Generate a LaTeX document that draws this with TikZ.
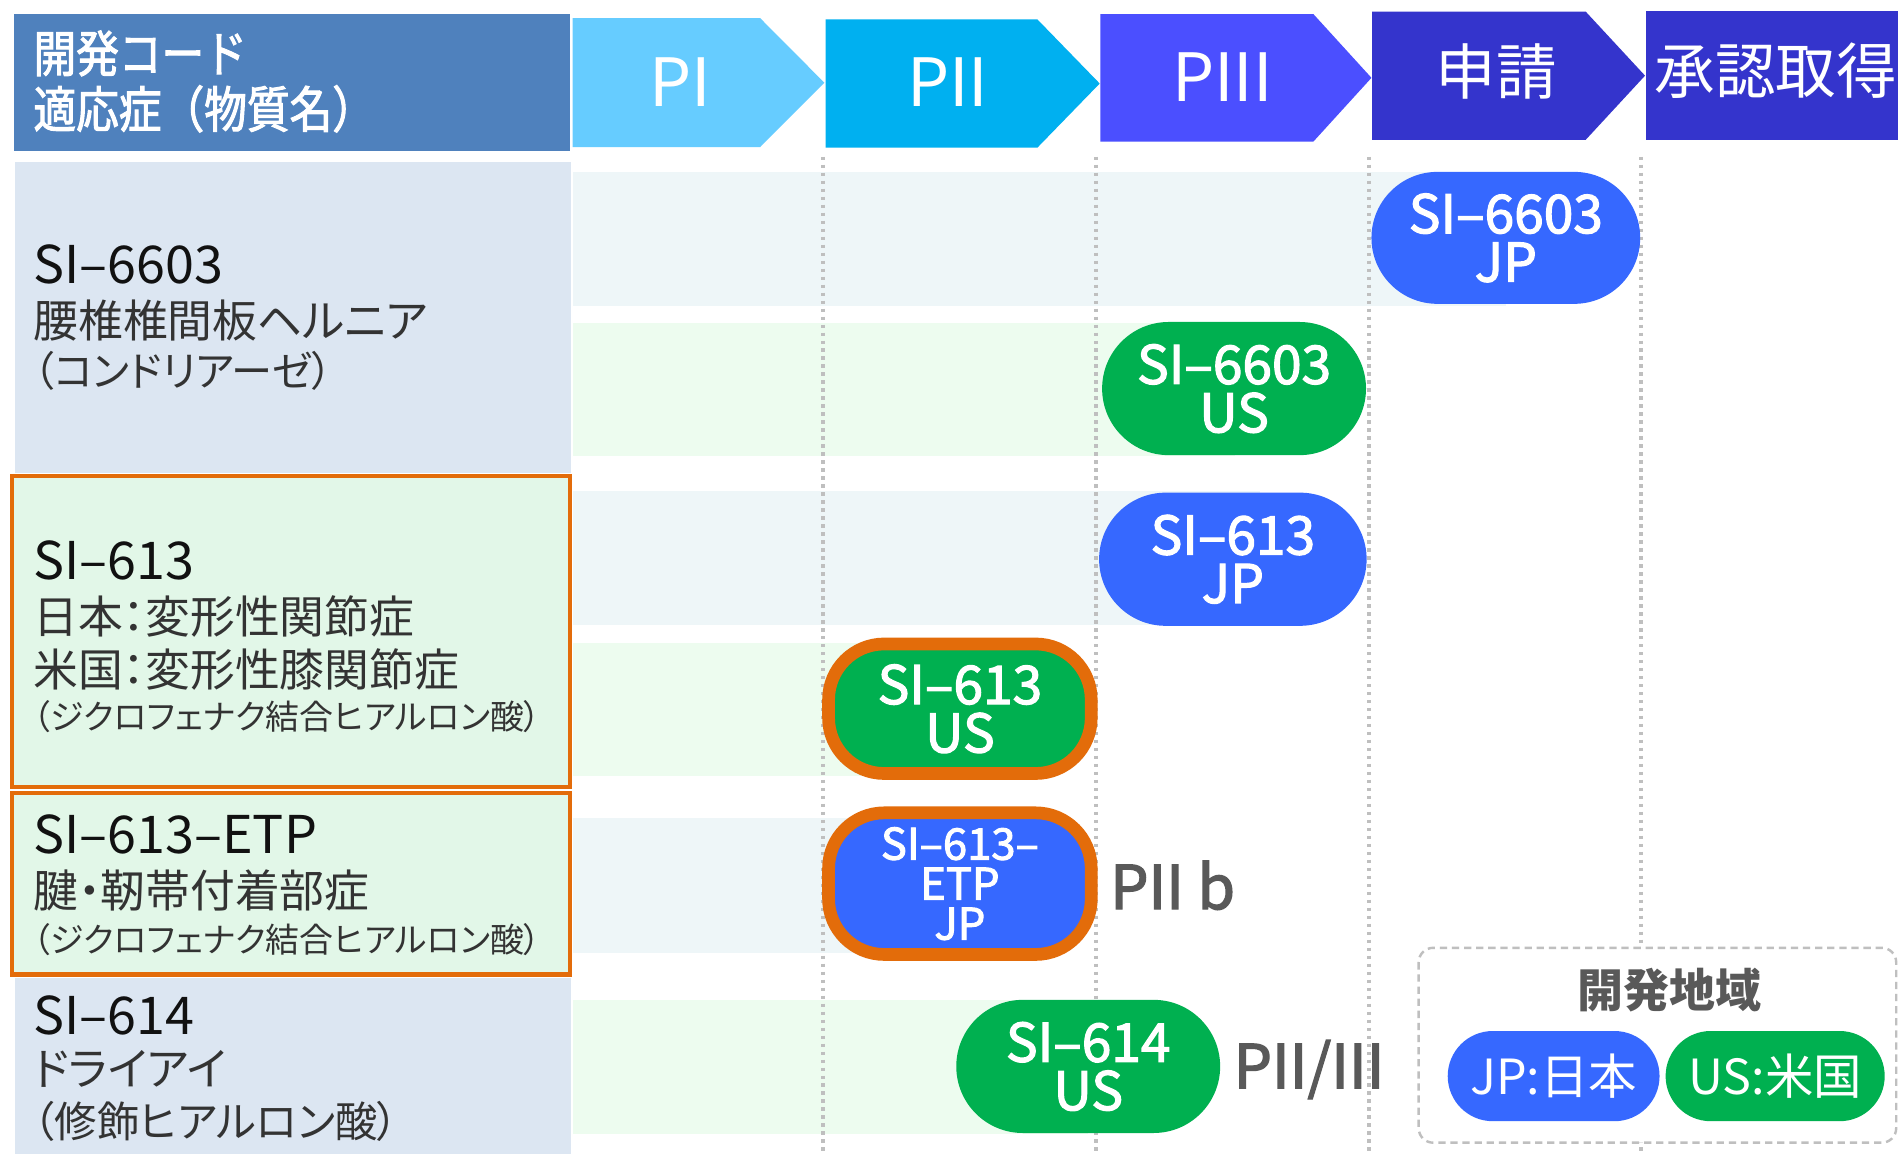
\documentclass[tikz,border=0pt]{standalone}
\usepackage{fontspec}
\setmainfont{Noto Sans CJK JP}
\newfontfamily\jpp{Noto Sans CJK JP}[RawFeature=+palt]
\newfontfamily\jpc{Noto Sans CJK JP}[FakeStretch=0.86,RawFeature={embolden=2}]
\newfontfamily\jpm{Noto Sans CJK JP}[RawFeature={embolden=2.2}]
\usetikzlibrary{shapes.misc}
\definecolor{hdrC}{HTML}{4F81BD}
\definecolor{piC}{HTML}{66CCFF}
\definecolor{piiC}{HTML}{00B0F0}
\definecolor{piiiC}{HTML}{4B4FFF}
\definecolor{shinC}{HTML}{3434CC}
\definecolor{rowB}{HTML}{DCE6F2}
\definecolor{rowG}{HTML}{E2F7E8}
\definecolor{strB}{HTML}{EEF6F8}
\definecolor{strG}{HTML}{EDFCEF}
\definecolor{pillB}{HTML}{3668FF}
\definecolor{pillG}{HTML}{00B050}
\definecolor{orgC}{HTML}{E36C0A}
\definecolor{grayT}{HTML}{595959}
\definecolor{dotC}{HTML}{BFBFBF}
\definecolor{codeT}{HTML}{111111}
\definecolor{jpT}{HTML}{333333}
\begin{document}
\begin{tikzpicture}[x=1pt,y=-1pt,
  pill/.style={rounded rectangle, inner sep=0pt, text=white, align=center},
  obpill/.style={rectangle, rounded corners=46pt, draw=orgC, line width=10.5pt, inner sep=0pt, text=white, align=center},
  ltxt/.style={anchor=base west, inner sep=0pt},
  phase/.style={text=white, inner sep=0pt},
  dotline/.style={draw=dotC, line width=3pt, dash pattern=on 2.8pt off 3.8pt},
  codefont/.style={font=\fontsize{43}{48}\selectfont, text=codeT},
  jpfont/.style={font=\jpp\fontsize{37}{44}\selectfont, text=jpT},
  smfont/.style={font=\jpp\fontsize{28}{34}\selectfont, text=jpT},
  pilltxt/.style={font=\jpm\fontsize{44}{40}\selectfont},
  sidelab/.style={anchor=base west, inner sep=0pt, text=grayT, font=\jpm\fontsize{50}{56}\selectfont}
]
\useasboundingbox (0,0) rectangle (1568,953);
\fill[white] (0,0) rectangle (1568,953);

% header
\fill[hdrC] (11.5,11.5) rectangle (471,125);
\node[ltxt, text=white, font=\jpc\fontsize{41}{46}\selectfont] (hdA) at (27.5,59.5) {開発コード};
\node[ltxt, text=white, font=\jpc\fontsize{41}{46}\selectfont] (hdB) at (27.5,105.5) {適応症（物質名）};

% phase chevrons
\fill[piC] (473,15) -- (628,15) -- (681,68.3) -- (628,121.5) -- (473,121.5) -- cycle;
\node[phase, font=\fontsize{55}{60}\selectfont] (tPI) at (562,67.5) {PI};
\fill[piiC] (682,16) -- (857,16) -- (908.5,69) -- (857,122) -- (682,122) -- cycle;
\node[phase, font=\fontsize{55}{60}\selectfont] (tPII) at (783,68) {PII};
\fill[piiiC] (909,11.6) -- (1085,11.6) -- (1133,64.3) -- (1085,117) -- (909,117) -- cycle;
\node[phase, font=\fontsize{55}{60}\selectfont] (tPIII) at (1010,64) {PIII};
\fill[shinC] (1133.5,9.6) -- (1310,9.6) -- (1359,62.5) -- (1310,115.5) -- (1133.5,115.5) -- cycle;
\node[phase, font=\fontsize{50}{56}\selectfont] (tShin) at (1236,59) {申請};
\fill[shinC] (1359.5,9) rectangle (1568,116);
\node[phase, font=\fontsize{50}{56}\selectfont] (tSho) at (1467,58.5) {承認取得};

% left column backgrounds
\fill[rowB] (12,133.5) rectangle (471.5,391);
\filldraw[fill=rowG, draw=orgC, line width=3.5pt] (10,393) rectangle (471,650);
\filldraw[fill=rowG, draw=orgC, line width=3.5pt] (10,655) rectangle (471,805);
\fill[rowB] (12,808) rectangle (471.5,953);

% stripes
\fill[strB] (473,142) rectangle (1244,252.5);
\fill[strG] (473,267) rectangle (1020,376.5);
\fill[strB] (473,405.5) rectangle (1041,516.4);
\fill[strG] (473,531) rectangle (792,641);
\fill[strB] (473,676) rectangle (792,787);
\fill[strG] (473,826) rectangle (899,936.5);

% dotted phase separators
\foreach \xx in {680,905.6,1131,1355.6} {
  \draw[dotline] (\xx,129.5) -- (\xx,953);
}

% left column texts
\node[ltxt, codefont] (c6603) at (27.5,234) {SI–6603};
\node[ltxt, jpfont] (c6603a) at (27.5,278.5) {腰椎椎間板ヘルニア};
\node[ltxt, jpfont, font=\jpp\fontsize{34}{42}\selectfont] (c6603b) at (27.5,319) {（コンドリアーゼ）};

\node[ltxt, codefont] (c613) at (27.5,479) {SI–613};
\node[ltxt, jpfont] (c613a) at (27.5,523) {日本：変形性関節症};
\node[ltxt, jpfont] (c613b) at (27.5,567) {米国：変形性膝関節症};
\node[ltxt, smfont] (c613c) at (27.5,603) {（ジクロフェナク結合ヒアルロン酸）};

\node[ltxt, codefont] (cetp) at (27.5,705.5) {SI–613–ETP};
\node[ltxt, jpfont] (cetpa) at (27.5,750) {腱・靭帯付着部症};
\node[ltxt, smfont] (cetpb) at (27.5,787) {（ジクロフェナク結合ヒアルロン酸）};

\node[ltxt, codefont] (c614) at (27.5,855) {SI–614};
\node[ltxt, jpfont] (c614a) at (27.5,897) {ドライアイ};
\node[ltxt, jpfont, font=\jpp\fontsize{35}{42}\selectfont] (c614b) at (27.5,940) {（修飾ヒアルロン酸）};

% pills
\node[pill, fill=pillB, minimum width=222pt, minimum height=109pt, pilltxt] (p6603jp) at (1244,196.5) {SI–6603\\JP};
\node[pill, fill=pillG, minimum width=218pt, minimum height=110pt, pilltxt] (p6603us) at (1019.5,321) {SI–6603\\US};
\node[pill, fill=pillB, minimum width=221pt, minimum height=110pt, pilltxt] (p613jp) at (1018.5,462) {SI–613\\JP};
\node[obpill, fill=pillG, minimum width=217pt, minimum height=107pt, pilltxt] (p613us) at (793,585.5) {SI–613\\US};
\node[obpill, fill=pillB, minimum width=217pt, minimum height=117pt, font=\jpm\fontsize{36}{33}\selectfont] (p613etp) at (793,730) {SI–613–\\ETP\\JP};
\node[pill, fill=pillG, minimum width=218pt, minimum height=110pt, pilltxt] (p614us) at (899,881) {SI–614\\US};

% side labels
\node[sidelab] (lPIIb) at (917,751) {PII b};
\node[sidelab] (lPII3) at (1019,899) {PII/III};

% legend
\draw[draw=dotC, fill=white, line width=2pt, dash pattern=on 6pt off 4pt, rounded corners=12pt] (1172,783) rectangle (1566.5,944);
\node[text=grayT, inner sep=0pt, font=\bfseries\fontsize{38}{44}\selectfont] (legT) at (1379,818) {開発地域};
\node[pill, fill=pillB, minimum width=175pt, minimum height=74.5pt, font=\fontsize{40}{44}\selectfont] (legJP) at (1283.5,889) {JP:日本};
\node[pill, fill=pillG, minimum width=181pt, minimum height=74.5pt, font=\fontsize{40}{44}\selectfont] (legUS) at (1466.5,889) {US:米国};
\end{tikzpicture}
\end{document}
